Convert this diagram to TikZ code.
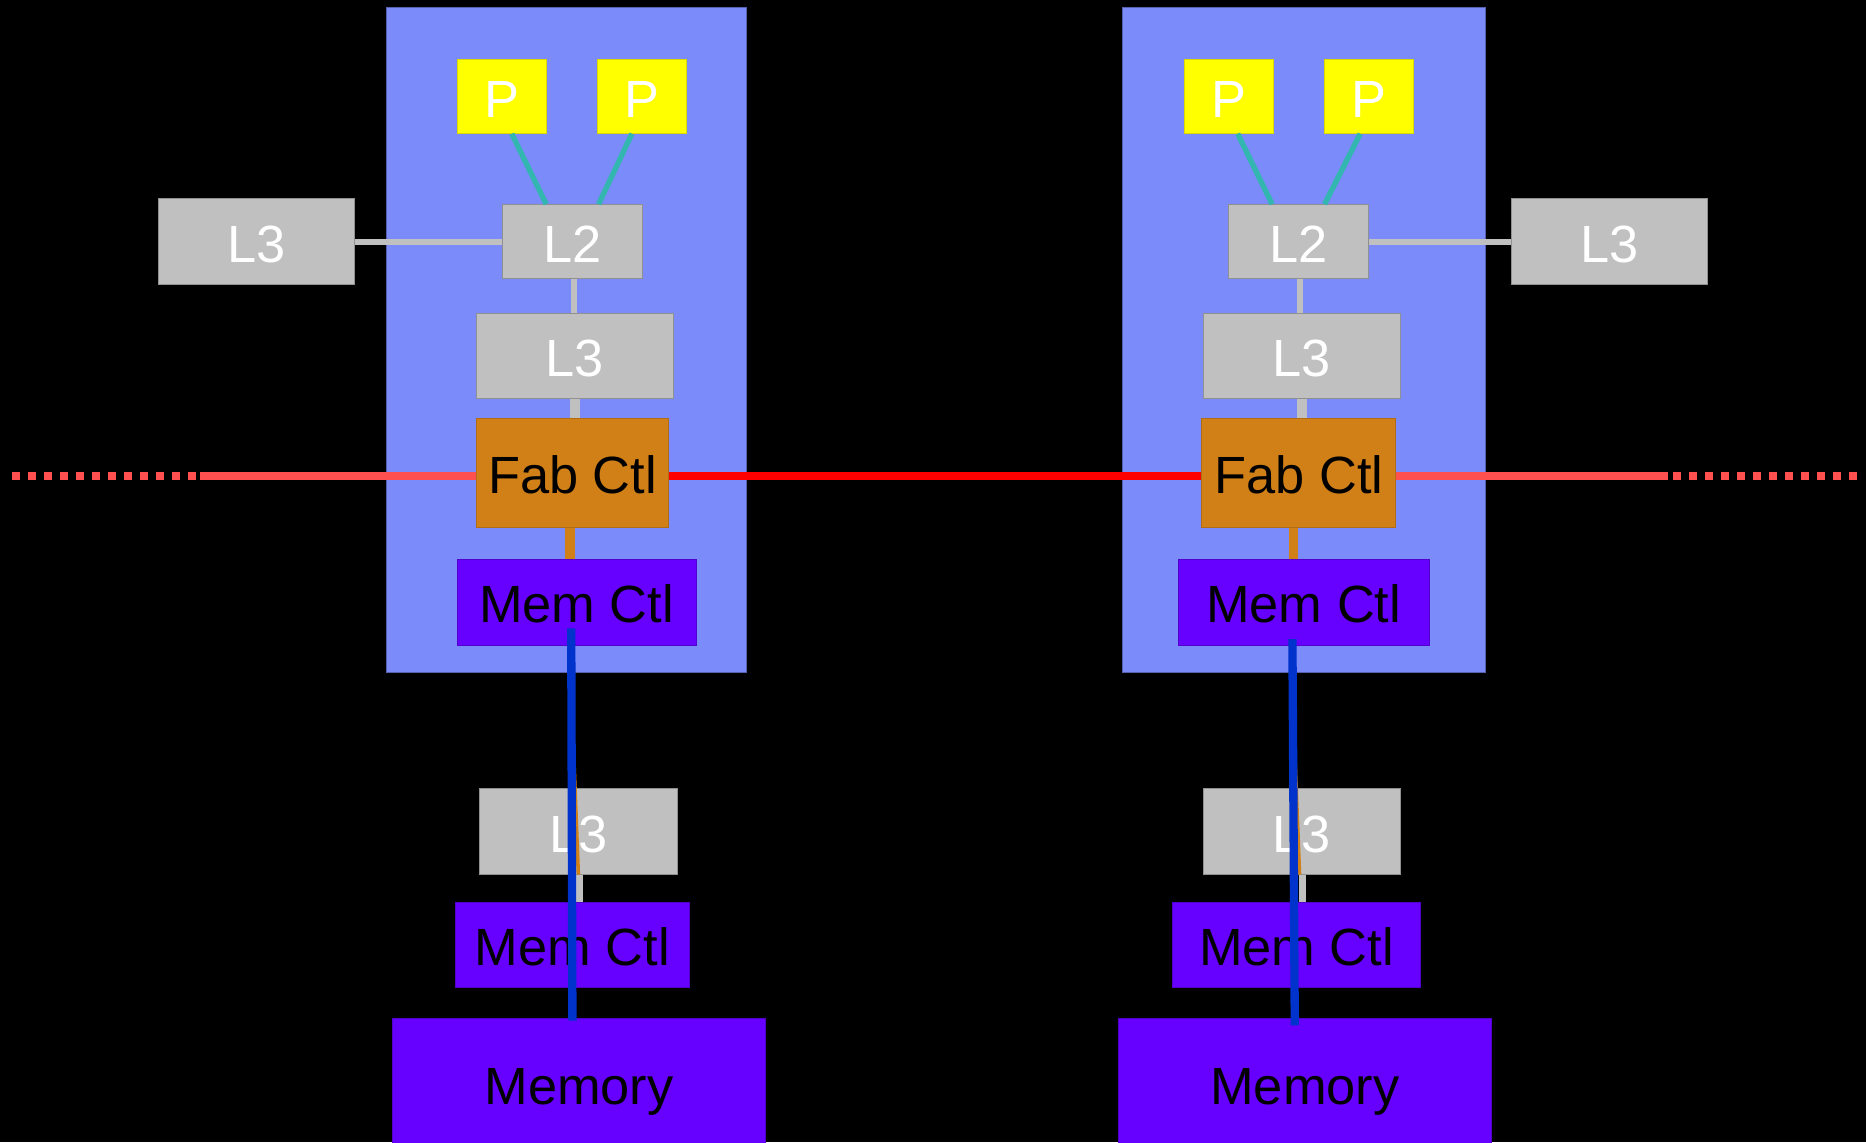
\documentclass[tikz,border=0pt]{standalone}
\usepackage{fontspec}
\setmainfont{Liberation Sans}
\definecolor{chipblue}{RGB}{123,139,250}
\definecolor{procyellow}{RGB}{255,255,0}
\definecolor{cachegray}{RGB}{192,192,192}
\definecolor{faborange}{RGB}{208,128,22}
\definecolor{mempurple}{RGB}{102,0,255}
\definecolor{wireteal}{RGB}{51,181,176}
\definecolor{linkred}{RGB}{255,80,80}
\definecolor{busblue}{RGB}{0,51,204}
\begin{document}
\begin{tikzpicture}[
    x=1pt, y=-1pt,
    chip/.style={rectangle, fill=chipblue, draw=chipblue!70!black, line width=0.8pt},
    box/.style={rectangle, inner sep=0pt, line width=0.8pt, text height=35pt, text depth=0pt, font=\fontsize{44}{50}\selectfont},
    proc/.style={box, fill=procyellow, draw=procyellow!85!black, text=white, minimum width=75pt, minimum height=62pt},
    cache/.style={box, fill=cachegray, draw=cachegray!75!black, text=white, minimum width=166pt, minimum height=72pt},
    fab/.style={box, fill=faborange, draw=faborange!85!black, minimum width=162pt, minimum height=91pt},
    mem/.style={box, fill=mempurple, draw=mempurple!80!black, minimum height=72pt},
    tealwire/.style={draw=wireteal, line width=4.5pt},
    graywire/.style={draw=cachegray, line width=5pt},
    orangewire/.style={draw=faborange, line width=8pt},
    buswire/.style={draw=busblue, line width=7pt},
    farlink/.style={draw=linkred, line width=7pt},
    farlinkdots/.style={farlink, dash pattern=on 6.7pt off 6.7pt}
]
\useasboundingbox (0,0) rectangle (1568,960);
\fill[black] (0,0) rectangle (1568,960);

\node[chip, minimum width=302pt, minimum height=559pt] (chipA) at (476,285.5) {};
\node[chip, minimum width=305pt, minimum height=559pt] (chipB) at (1095.5,285.5) {};

\node[proc] (pA1) at (421.5,81) {P};
\node[proc] (pA2) at (539.5,81) {P};
\node[cache, minimum width=118pt, minimum height=62pt] (l2A) at (481,203) {L2};
\node[cache, minimum width=165pt] (l3xA) at (215.5,203) {L3};
\node[cache] (l3A) at (483,299) {L3};
\node[fab] (fabA) at (481,397.5) {Fab Ctl};
\node[mem, minimum width=201pt] (mcA) at (484.5,506) {Mem Ctl};
\node[cache] (l3bA) at (486,698.5) {L3};
\node[mem, minimum width=196pt] (mcbA) at (481,794) {Mem Ctl};
\node[mem, minimum width=313pt, minimum height=110pt] (memA) at (486.5,911) {Memory};

\node[proc] (pB1) at (1032.5,81) {P};
\node[proc] (pB2) at (1150.5,81) {P};
\node[cache, minimum width=118pt, minimum height=62pt] (l2B) at (1091,203) {L2};
\node[cache, minimum width=165pt] (l3xB) at (1352.5,203) {L3};
\node[cache] (l3B) at (1094,299) {L3};
\node[fab, minimum width=163pt] (fabB) at (1091.5,397.5) {Fab Ctl};
\node[mem, minimum width=211pt] (mcB) at (1095.5,506) {Mem Ctl};
\node[cache] (l3bB) at (1094,698.5) {L3};
\node[mem, minimum width=209pt] (mcbB) at (1089.5,794) {Mem Ctl};
\node[mem, minimum width=313pt, minimum height=110pt] (memB) at (1096.5,911) {Memory};

\coordinate (linkAin) at (168,400);
\coordinate (linkAdot) at (164.5,400);
\coordinate (linkAend) at (8,400);
\coordinate (linkBin) at (1402,400);
\coordinate (linkBdot) at (1406,400);
\coordinate (linkBend) at (1566,400);
\coordinate (busA) at (480,528);
\coordinate (busB) at (1086,537);

\draw[tealwire] ([xshift=8.5pt]pA1.south) -- ([xshift=-22pt]l2A.north);
\draw[tealwire] ([xshift=-8.5pt]pA2.south) -- ([xshift=22pt]l2A.north);
\draw[tealwire] ([xshift=7.5pt]pB1.south) -- ([xshift=-22pt]l2B.north);
\draw[tealwire] ([xshift=-7.5pt]pB2.south) -- ([xshift=22pt]l2B.north);

\draw[graywire] (l3xA.east) -- (l2A.west);
\draw[graywire] (l2B.east) -- (l3xB.west);
\draw[graywire] ([xshift=1pt]l2A.south) -- ([xshift=1pt]l2A.south |- l3A.north);
\draw[graywire] ([xshift=1pt]l2B.south) -- ([xshift=1pt]l2B.south |- l3B.north);
\draw[graywire, line width=8pt] (l3A.south) -- (l3A.south |- fabA.north);
\draw[graywire, line width=8pt] (l3B.south) -- (l3B.south |- fabB.north);
\draw[orangewire] ([xshift=-2pt]fabA.south) -- ([xshift=-2pt]fabA.south |- mcA.north);
\draw[orangewire] ([xshift=-4.5pt]fabB.south) -- ([xshift=-4.5pt]fabB.south |- mcB.north);

\draw[draw=red, line width=7pt] (linkAin -| fabA.east) -- (linkAin -| fabB.west);
\draw[farlink] (linkAin -| fabA.west) -- (linkAin);
\draw[farlinkdots] (linkAdot) -- (linkAend);
\draw[farlink] (linkBin -| fabB.east) -- (linkBin);
\draw[farlinkdots] (linkBdot) -- (linkBend);

\draw[orangewire, line width=3pt] ([xshift=-6pt]mcA.south) -- (l3bA.south);
\draw[orangewire, line width=3pt] ([xshift=-11pt]mcB.south) -- ([xshift=-2pt]l3bB.south);
\draw[graywire, line width=6pt] ([xshift=1pt]l3bA.south) -- ([xshift=1pt]l3bA.south |- mcbA.north);
\draw[graywire, line width=6pt] ([xshift=0.5pt]l3bB.south) -- ([xshift=0.5pt]l3bB.south |- mcbB.north);

\draw[buswire] (busA) -- ([xshift=-5.5pt,yshift=-2pt]memA.north);
\draw[buswire] (busB) -- ([xshift=-8.5pt,yshift=-6pt]memB.north);
\end{tikzpicture}
\end{document}
